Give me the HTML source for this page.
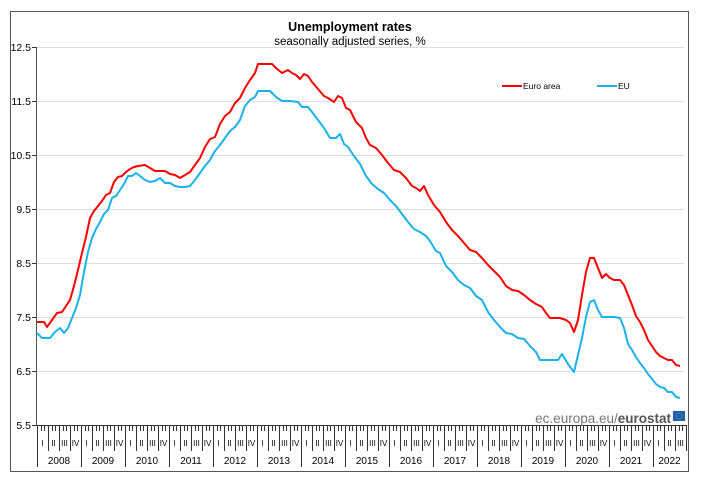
<!DOCTYPE html><html><head><meta charset="utf-8"><style>body{margin:0;background:#fff}svg{display:block;font-family:"Liberation Sans",sans-serif}</style></head><body>
<svg id="s" width="701" height="482" xmlns="http://www.w3.org/2000/svg">
<rect x="10.5" y="11.5" width="678" height="460" fill="#fff" stroke="#555" stroke-width="1"/>
<text x="350" y="31" text-anchor="middle" font-size="12.5" font-weight="bold">Unemployment rates</text>
<text x="350" y="45" text-anchor="middle" font-size="11.5">seasonally adjusted series, %</text>
<g id="grid" stroke="#ddd" stroke-width="1"></g>
<g id="yl" font-size="10.5" text-anchor="end"></g>
<line x1="36.5" y1="47" x2="36.5" y2="425" stroke="#555"/>
<line x1="36" y1="425.5" x2="686" y2="425.5" stroke="#333"/>
<g id="ticks" stroke="#333" stroke-width="1"></g>
<g id="xl" font-size="8" text-anchor="middle"></g>
<g id="yr" font-size="10" text-anchor="middle"></g>
<line x1="502" y1="86" x2="522" y2="86" stroke="#f00" stroke-width="2"/>
<text x="523" y="89" font-size="8.5">Euro area</text>
<line x1="597" y1="86" x2="617" y2="86" stroke="#1ab2ea" stroke-width="2"/>
<text x="618" y="89" font-size="8.5">EU</text>
<text x="671" y="423" text-anchor="end" font-size="13.5" fill="#777">ec.europa.eu/<tspan font-weight="bold" fill="#555">eurostat</tspan></text>
<rect x="673" y="411" width="12" height="10" fill="#1a5fb4"/>
<circle cx="679" cy="416" r="3" fill="none" stroke="#fc0" stroke-width="0.6" stroke-dasharray="0.6 1"/>
<polyline id="eu" fill="none" stroke="#1ab2ea" stroke-width="2" stroke-linejoin="round"/>
<polyline id="ea" fill="none" stroke="#f00" stroke-width="2" stroke-linejoin="round"/>
</svg>
<script>
var NS="http://www.w3.org/2000/svg";
function el(p,t,a,txt){var e=document.createElementNS(NS,t);for(var k in a)e.setAttribute(k,a[k]);if(txt)e.textContent=txt;document.getElementById(p).appendChild(e);}
var vals=["12.5","11.5","10.5","9.5","8.5","7.5","6.5","5.5"];
for(var i=0;i<8;i++){var y=47+54*i;if(i<7)el("grid","line",{x1:36,y1:y+.5,x2:684,y2:y+.5});el("yl","text",{x:31,y:y+4},vals[i]);el("ticks","line",{x1:32,y1:y+.5,x2:36,y2:y+.5});}
var x0=37,mw=44/12,q=["I","II","III","IV"];
for(var m=0;m<=177;m++){var x=Math.round(x0+m*mw)+.5;var len=6;if(m%3==0)len=26;if(m%12==0)len=42;el("ticks","line",{x1:x,y1:425,x2:x,y2:425+len});
if(m<177&&m%3==0){var qi=(m/3)%4;el("xl","text",{x:x0+(m+1.5)*mw,y:446},q[qi]);}
if(m<177&&m%12==0){var yr=2008+m/12;var w=yr==2022?4.5:6;el("yr","text",{x:x0+(m+w)*mw,y:464},String(yr));}}
var ea=[[37,322],[44,322],[47,327],[52,320],[57,313],[62,312],[66,306],[70,300],[74,286],[78,270],[82,253],[86,237],[90,218],[94,211],[98,206],[102,201],[106,195],[110,193],[114,182],[118,177],[122,176],[126,172],[130,169],[134,167],[138,166],[145,165],[150,168],[155,171],[160,171],[165,171],[170,174],[175,175],[180,178],[185,175],[190,172],[195,165],[200,158],[205,147],[210,139],[215,137],[220,124],[225,116],[230,112],[235,103],[240,98],[245,88],[250,80],[255,73],[258,64],[265,64],[272,64],[276,68],[282,73],[288,70],[292,73],[296,75],[300,79],[304,74],[308,76],[312,82],[318,89],[324,96],[328,98],[334,102],[338,96],[342,98],[346,108],[350,110],[356,122],[362,128],[366,138],[370,145],[376,148],[382,155],[388,163],[394,170],[400,172],[406,178],[412,186],[416,188],[420,191],[424,186],[428,195],[434,205],[440,212],[446,222],[452,230],[458,236],[464,243],[470,250],[476,252],[482,258],[488,265],[494,271],[500,277],[506,286],[512,290],[518,291],[524,295],[530,300],[536,304],[542,307],[546,313],[550,318],[554,318],[560,318],[566,320],[570,323],[574,332],[578,320],[582,295],[586,272],[590,258],[594,258],[598,268],[602,278],[606,274],[610,278],[614,280],[620,280],[624,285],[628,295],[632,305],[636,316],[640,322],[644,330],[648,340],[652,346],[656,352],[660,356],[664,358],[668,360],[672,360],[676,365],[680,366]];
var eu=[[37,333],[42,338],[50,338],[55,332],[60,328],[64,333],[68,328],[72,318],[76,308],[80,295],[84,272],[88,252],[92,238],[96,229],[100,222],[104,214],[108,210],[112,198],[116,196],[120,190],[124,184],[128,176],[132,176],[136,173],[140,176],[145,180],[150,182],[155,181],[160,178],[165,183],[170,183],[175,186],[180,187],[185,187],[190,186],[195,180],[200,173],[205,166],[210,160],[215,151],[220,145],[225,138],[230,131],[235,127],[240,120],[245,106],[250,100],[255,97],[258,91],[264,91],[270,91],[276,97],[282,101],[290,101],[298,102],[302,107],[308,107],[312,112],[318,120],[324,128],[330,138],[336,138],[340,134],[344,144],[348,147],[354,156],[360,164],[366,176],[372,184],[378,189],[384,193],[390,200],[396,206],[402,214],[408,222],[414,229],[420,232],[426,236],[430,241],[436,251],[440,253],[446,266],[452,272],[458,280],[464,285],[470,288],[476,296],[482,300],[488,312],[494,320],[500,327],[506,333],[512,334],[518,338],[524,339],[530,346],[536,352],[540,360],[546,360],[552,360],[558,360],[562,354],[568,364],[574,372],[578,355],[582,338],[586,317],[590,302],[594,300],[598,310],[602,317],[608,317],[614,317],[620,318],[624,328],[628,344],[632,350],[636,357],[640,363],[644,368],[648,374],[652,379],[656,384],[660,387],[664,388],[668,392],[672,392],[676,397],[680,398]];
document.getElementById("ea").setAttribute("points",ea.join(" "));
document.getElementById("eu").setAttribute("points",eu.join(" "));
</script></body></html>
